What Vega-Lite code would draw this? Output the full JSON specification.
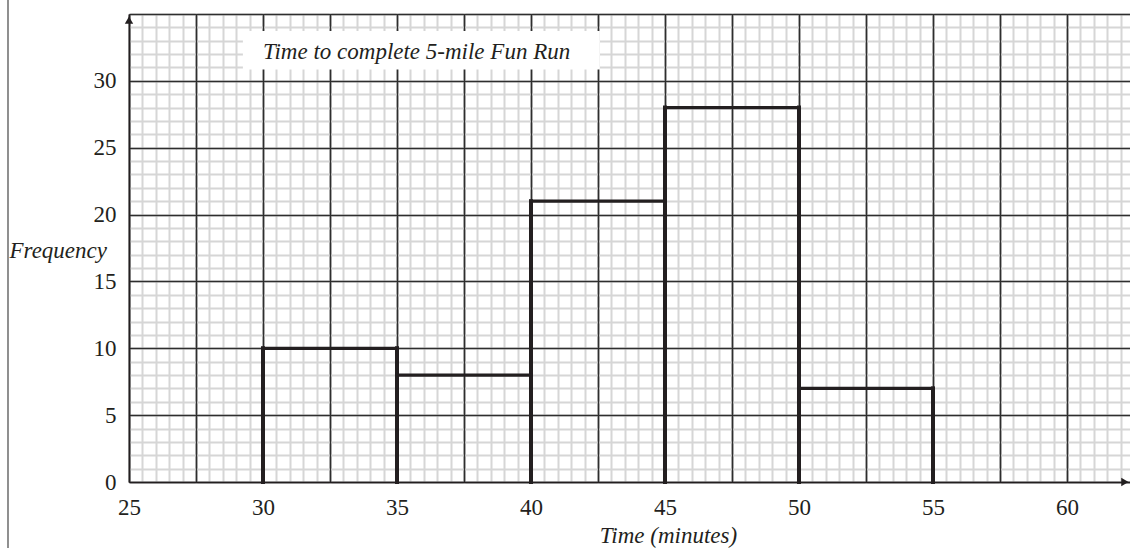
{
  "$schema": "https://vega.github.io/schema/vega-lite/v6.json",
  "width": 1001,
  "height": 468,
  "autosize": {"type": "none"},
  "padding": {"left": 129, "top": 14, "right": 0, "bottom": 66},
  "background": "white",
  "config": {
    "view": {"stroke": null},
    "font": "Liberation Serif",
    "axis": {"labelFont": "Liberation Serif", "titleFont": "Liberation Serif"}
  },
  "datasets": {
    "bars": [
      {"start": 30, "end": 35, "frequency": 10},
      {"start": 35, "end": 40, "frequency": 8},
      {"start": 40, "end": 45, "frequency": 21},
      {"start": 45, "end": 50, "frequency": 28},
      {"start": 50, "end": 55, "frequency": 7}
    ],
    "one": [{"item": "decoration"}]
  },
  "data": {"name": "bars"},
  "layer": [
    {
      "mark": {"type": "point", "opacity": 0},
      "encoding": {
        "x": {"field": "start", "type": "quantitative", "scale": {"domain": [25, 62.351], "nice": false, "zero": false},
          "axis": {"orient": "bottom", "values": [25,25.5,26,26.5,27,27.5,28,28.5,29,29.5,30,30.5,31,31.5,32,32.5,33,33.5,34,34.5,35,35.5,36,36.5,37,37.5,38,38.5,39,39.5,40,40.5,41,41.5,42,42.5,43,43.5,44,44.5,45,45.5,46,46.5,47,47.5,48,48.5,49,49.5,50,50.5,51,51.5,52,52.5,53,53.5,54,54.5,55,55.5,56,56.5,57,57.5,58,58.5,59,59.5,60,60.5,61,61.5,62],
            "grid": true, "gridColor": "#d6d6d6", "gridWidth": 2, "labels": false, "ticks": false, "domain": false, "title": null}},
        "y": {"field": "frequency", "type": "quantitative", "scale": {"domain": [0, 35], "nice": false, "zero": false},
          "axis": {"orient": "left", "values": [0,1,2,3,4,5,6,7,8,9,10,11,12,13,14,15,16,17,18,19,20,21,22,23,24,25,26,27,28,29,30,31,32,33,34,35],
            "grid": true, "gridColor": "#d6d6d6", "gridWidth": 2, "gridDash": [65, 2], "gridDashOffset": 66, "labels": false, "ticks": false, "domain": false, "title": null}}
      }
    },
    {
      "mark": {"type": "point", "opacity": 0},
      "encoding": {
        "x": {"field": "start", "type": "quantitative", "scale": {"domain": [25, 62.351], "nice": false, "zero": false},
          "axis": {"orient": "bottom", "values": [25,27.5,30,32.5,35,37.5,40,42.5,45,47.5,50,52.5,55,57.5,60],
            "grid": true, "gridColor": "#2e2e2e", "gridWidth": 1.7, "labels": false, "ticks": false, "domain": false, "title": null}},
        "y": {"field": "frequency", "type": "quantitative", "scale": {"domain": [0, 35], "nice": false, "zero": false},
          "axis": {"orient": "left", "values": [0,5,10,15,20,25,30,35],
            "grid": true, "gridColor": "#2e2e2e", "gridWidth": 1.5, "labels": false, "ticks": false, "domain": false, "title": null}}
      }
    },
    {
      "mark": {"type": "point", "opacity": 0},
      "encoding": {
        "x": {"field": "start", "type": "quantitative", "scale": {"domain": [25, 62.351], "nice": false, "zero": false},
          "axis": {"orient": "bottom", "values": [25,30,35,40,45,50,55,60], "grid": false, "ticks": false,
            "domain": true, "domainColor": "#231f20", "domainWidth": 1.6,
            "labelFontSize": 23, "labelColor": "#231f20", "labelPadding": 14, "labelFlush": false, "labelOverlap": false,
            "title": "Time (minutes)", "titleFontSize": 23, "titleFontStyle": "italic", "titleFontWeight": "normal", "titleColor": "#231f20",
            "titleX": 539, "titleY": 53, "titleAlign": "center", "titleBaseline": "middle"}},
        "y": {"field": "frequency", "type": "quantitative", "scale": {"domain": [0, 35], "nice": false, "zero": false},
          "axis": {"orient": "left", "values": [0,5,10,15,20,25,30], "grid": false, "ticks": false,
            "domain": true, "domainColor": "#231f20", "domainWidth": 1.6,
            "labelFontSize": 23, "labelColor": "#231f20", "labelPadding": 13, "labelFlush": false, "labelOverlap": false,
            "title": "Frequency", "titleFontSize": 23, "titleFontStyle": "italic", "titleFontWeight": "normal", "titleColor": "#231f20",
            "titleAngle": 0, "titleX": -120, "titleY": 236, "titleAlign": "left", "titleBaseline": "middle"}}
      }
    },
    {
      "data": {"name": "one"},
      "mark": {"type": "rect", "color": "white"},
      "encoding": {
        "x": {"datum": 29.25, "type": "quantitative", "scale": {"domain": [25, 62.351], "nice": false, "zero": false}, "axis": null},
        "x2": {"datum": 42.57},
        "y": {"datum": 30.85, "type": "quantitative", "scale": {"domain": [0, 35], "nice": false, "zero": false}, "axis": null},
        "y2": {"datum": 33.72}
      }
    },
    {
      "data": {"name": "one"},
      "mark": {"type": "text", "text": "Time to complete 5-mile Fun Run", "font": "Liberation Serif", "fontSize": 23, "fontStyle": "italic", "fontWeight": "normal", "color": "#231f20", "align": "center", "baseline": "middle"},
      "encoding": {
        "x": {"datum": 35.73, "type": "quantitative", "scale": {"domain": [25, 62.351], "nice": false, "zero": false}, "axis": null},
        "y": {"datum": 32.16, "type": "quantitative", "scale": {"domain": [0, 35], "nice": false, "zero": false}, "axis": null}
      }
    },
    {
      "mark": {"type": "rule", "color": "#231f20", "strokeWidth": 4, "strokeCap": "square"},
      "encoding": {
        "x": {"field": "start", "type": "quantitative", "scale": {"domain": [25, 62.351], "nice": false, "zero": false}, "axis": null},
        "y": {"field": "frequency", "type": "quantitative", "scale": {"domain": [0, 35], "nice": false, "zero": false}, "axis": null},
        "y2": {"datum": 0}
      }
    },
    {
      "mark": {"type": "rule", "color": "#231f20", "strokeWidth": 4, "strokeCap": "square"},
      "encoding": {
        "x": {"field": "end", "type": "quantitative", "scale": {"domain": [25, 62.351], "nice": false, "zero": false}, "axis": null},
        "y": {"field": "frequency", "type": "quantitative", "scale": {"domain": [0, 35], "nice": false, "zero": false}, "axis": null},
        "y2": {"datum": 0}
      }
    },
    {
      "mark": {"type": "rule", "color": "#231f20", "strokeWidth": 3.2, "strokeCap": "square"},
      "encoding": {
        "x": {"field": "start", "type": "quantitative", "scale": {"domain": [25, 62.351], "nice": false, "zero": false}, "axis": null},
        "x2": {"field": "end"},
        "y": {"field": "frequency", "type": "quantitative", "scale": {"domain": [0, 35], "nice": false, "zero": false}, "axis": null}
      }
    },
    {
      "data": {"name": "one"},
      "mark": {"type": "point", "shape": "triangle-right", "filled": true, "color": "#231f20", "opacity": 1, "size": 70},
      "encoding": {
        "x": {"datum": 62.16, "type": "quantitative", "scale": {"domain": [25, 62.351], "nice": false, "zero": false}, "axis": null},
        "y": {"datum": 0, "type": "quantitative", "scale": {"domain": [0, 35], "nice": false, "zero": false}, "axis": null}
      }
    },
    {
      "data": {"name": "one"},
      "mark": {"type": "point", "shape": "triangle-up", "filled": true, "color": "#231f20", "opacity": 1, "size": 70},
      "encoding": {
        "x": {"datum": 25, "type": "quantitative", "scale": {"domain": [25, 62.351], "nice": false, "zero": false}, "axis": null},
        "y": {"datum": 34.55, "type": "quantitative", "scale": {"domain": [0, 35], "nice": false, "zero": false}, "axis": null}
      }
    },
    {
      "data": {"name": "one"},
      "mark": {"type": "rule", "color": "#6b6b6b", "strokeWidth": 1.5, "clip": false},
      "encoding": {
        "x": {"datum": 20.485, "type": "quantitative", "scale": {"domain": [25, 62.351], "nice": false, "zero": false}, "axis": null},
        "y": {"datum": -4.94, "type": "quantitative", "scale": {"domain": [0, 35], "nice": false, "zero": false}, "axis": null},
        "y2": {"datum": 36.05}
      }
    }
  ],
  "resolve": {"axis": {"x": "independent", "y": "independent"}}
}
